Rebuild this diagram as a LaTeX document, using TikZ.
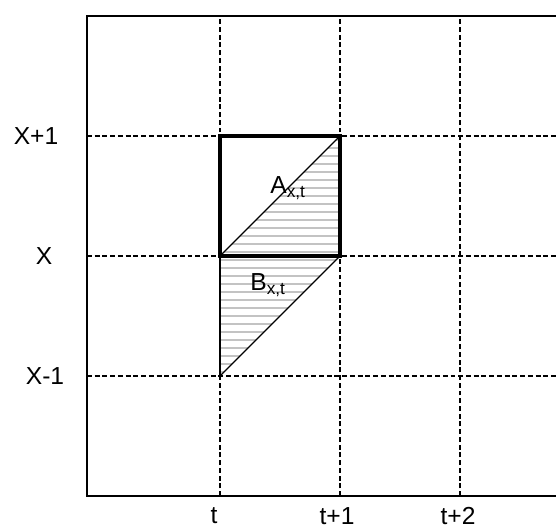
\documentclass[tikz,border=0pt]{standalone}
\usepackage{fontspec}
\setmainfont{Liberation Sans}
\usetikzlibrary{calc}
\definecolor{hatchgray}{RGB}{195,195,195}

\begin{document}
\begin{tikzpicture}[
    x=0.025cm, y=0.025cm,
    axis/.style={line width=1.4pt, black},
    gridline/.style={line width=0.75pt, dash pattern=on 3.5pt off 2pt, black},
    cell/.style={line width=2.6pt, black},
    diag/.style={line width=1pt, black},
    hatch/.style={line width=2.1pt, hatchgray},
    tick/.style={font=\fontsize{17.5}{20}\selectfont},
    region/.style={font=\fontsize{17.5}{20}\selectfont, inner sep=0pt}
]

% Page size of the reference (556 x 530 px, 1 px = 0.025 cm).
\useasboundingbox (0,0) rectangle (556,530);

% Grid points: columns t, t+1, t+2 and rows X-1, X, X+1.
\coordinate (O)    at (87,34);
\coordinate (top)  at (87,514);
\coordinate (c1)   at (220,274);  % (t, X)
\coordinate (c2)   at (340,274);  % (t+1, X)
\coordinate (c3)   at (340,394);  % (t+1, X+1)
\coordinate (c4)   at (220,394);  % (t, X+1)
\coordinate (c5)   at (220,154);  % (t, X-1)

% Hatched triangles A and B, clipped horizontal strokes.
\begin{scope}
    \clip (c1) -- (c3) -- (c2) -- (c5) -- cycle;
    \foreach \y in {150,158,...,400} {
        \draw[hatch] (210,\y) -- (350,\y);
    }
\end{scope}

% Dashed grid.
\foreach \x in {220,340,460} {
    \draw[gridline] (\x,34) -- (\x,514);
}
\foreach \y in {154,274,394} {
    \draw[gridline] (87,\y) -- (556,\y);
}

% Frame (open on the right).
\draw[axis] (556,514) -- (top) -- (O) -- (556,34);

% Diagonals and the cell (t, X).
\draw[diag] (c1) -- (c3);
\draw[diag] (c2) -- (c5);
\draw[diag] (c1) -- (c5);
\draw[cell] (c1) rectangle (c3);

% Region labels.
\node[region] (A) at (288,342) {A\textsubscript{x,t}};
\node[region] (B) at (268,245) {B\textsubscript{x,t}};

% Axis labels.
\node[tick] (lXp) at (36,394) {X+1};
\node[tick] (lX)  at (44,274) {X};
\node[tick] (lXm) at (45,154) {X-1};
\node[tick] (lt)  at (214,14) {t};
\node[tick] (lt1) at (337,14) {t+1};
\node[tick] (lt2) at (458,14) {t+2};

\end{tikzpicture}
\end{document}
